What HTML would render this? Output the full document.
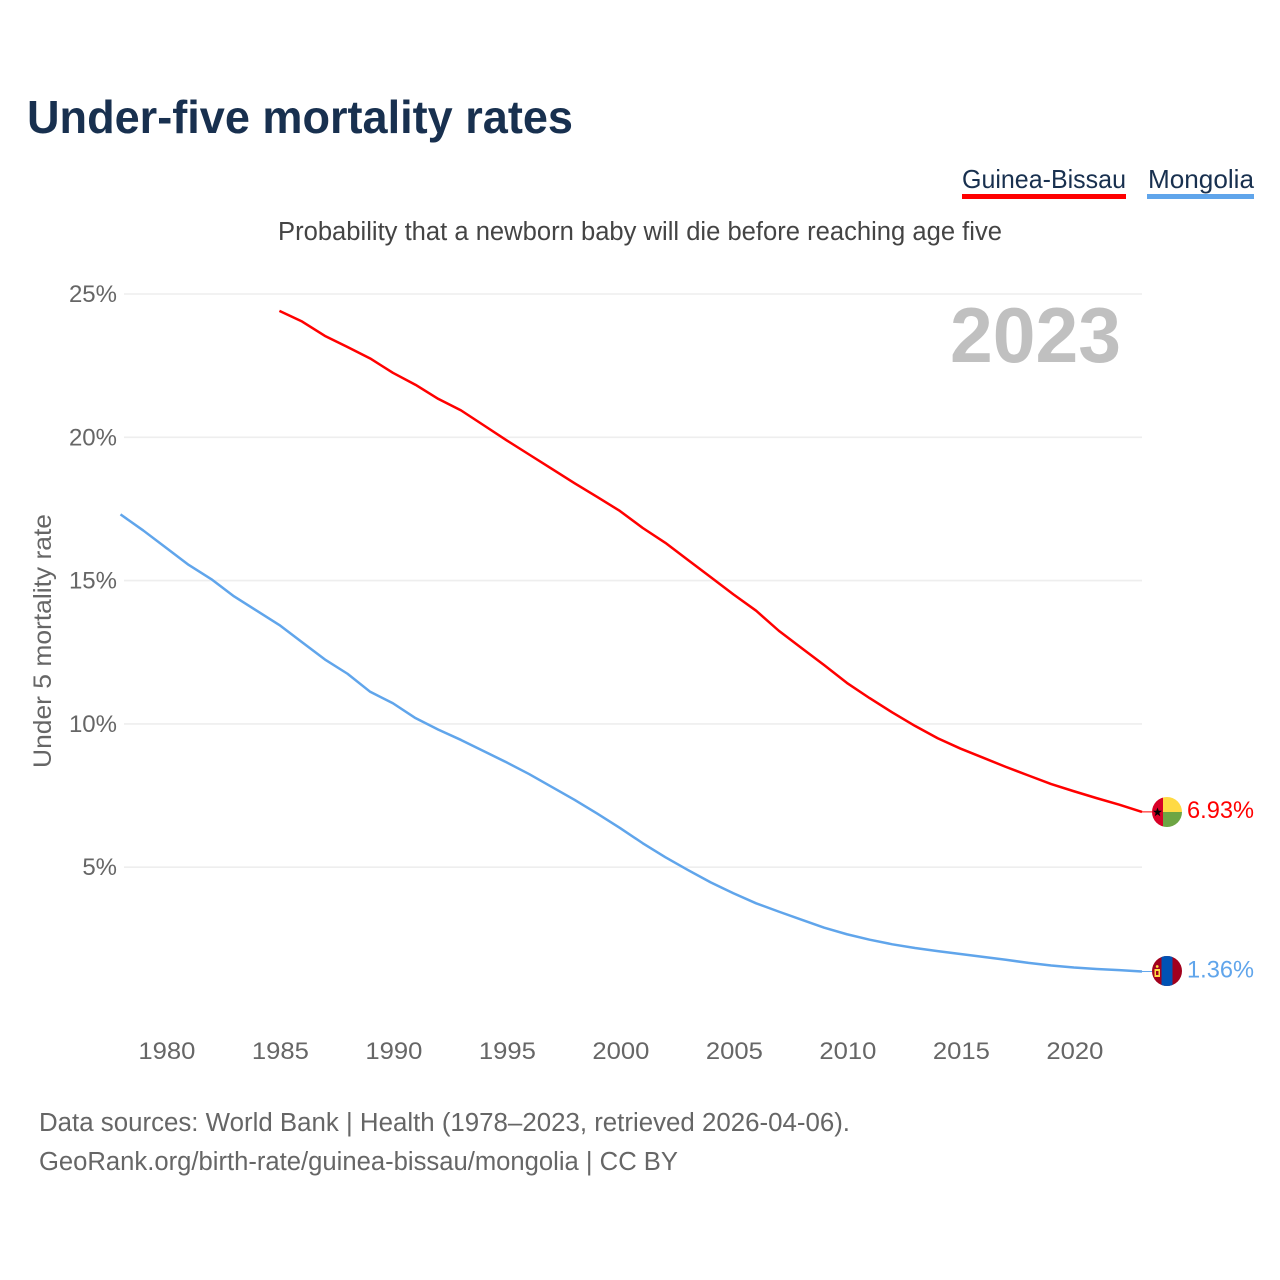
<!DOCTYPE html>
<html lang="en">
<head>
<meta charset="utf-8">
<title>Under-five mortality rates</title>
<style>
html,body{margin:0;padding:0;background:#fff;width:1280px;height:1280px;overflow:hidden}
svg{display:block}
text{font-family:"Liberation Sans",sans-serif}
</style>
</head>
<body>
<svg id="chart" xmlns="http://www.w3.org/2000/svg" width="1280" height="1280" viewBox="0 0 1280 1280">
  <rect width="1280" height="1280" fill="#fff"/>
  <text x="27" y="133" font-size="46" font-weight="700" fill="#18304f" textLength="546" lengthAdjust="spacingAndGlyphs">Under-five mortality rates</text>

  <g>
    <text x="962" y="188" font-size="26" fill="#18304f" textLength="164" lengthAdjust="spacingAndGlyphs">Guinea-Bissau</text>
    <rect x="962" y="194" width="164" height="5" fill="#ff0000"/>
  </g>
  <g>
    <text x="1148" y="188" font-size="26" fill="#18304f" textLength="106" lengthAdjust="spacingAndGlyphs">Mongolia</text>
    <rect x="1147" y="194" width="107" height="5" fill="#60a5eb"/>
  </g>

  <text x="278" y="240" font-size="25.5" fill="#444" textLength="724" lengthAdjust="spacingAndGlyphs">Probability that a newborn baby will die before reaching age five</text>

  <g id="grid"></g>
  <g id="yticks"></g>
  <g id="xticks"></g>

  <text x="950" y="362" font-size="78" font-weight="700" fill="#c0c0c0" textLength="171" lengthAdjust="spacingAndGlyphs">2023</text>

  <text transform="translate(51,768) rotate(-90)" font-size="25" fill="#666" textLength="254" lengthAdjust="spacingAndGlyphs">Under 5 mortality rate</text>

  <g id="series"></g>

  <defs>
    <clipPath id="clip-gw"><circle cx="1167" cy="812" r="15"/></clipPath>
    <clipPath id="clip-mn"><circle cx="1167" cy="971" r="15"/></clipPath>
  </defs>

  <g clip-path="url(#clip-gw)">
    <rect x="1152" y="797" width="11" height="30" fill="#d80027"/>
    <rect x="1163" y="797" width="19" height="15" fill="#ffda44"/>
    <rect x="1163" y="812" width="19" height="15" fill="#6da544"/>
    <polygon points="1157.5,807.5 1158.7,810.8 1162,810.8 1159.3,812.9 1160.3,816.2 1157.5,814.2 1154.7,816.2 1155.7,812.9 1153,810.8 1156.3,810.8" fill="#000"/>
  </g>
  <g clip-path="url(#clip-mn)">
    <rect x="1152" y="956" width="30" height="30" fill="#a2001d"/>
    <rect x="1161.5" y="956" width="11" height="30" fill="#0052b4"/>
    <rect x="1154.5" y="969" width="5.5" height="8" fill="#ffda44"/>
    <rect x="1156" y="971" width="2.5" height="4" fill="#a2001d"/>
    <circle cx="1157.2" cy="966.5" r="1.4" fill="#ffda44"/>
  </g>

  <text x="1187" y="818" font-size="24" fill="#ff0000" textLength="67" lengthAdjust="spacingAndGlyphs">6.93%</text>
  <text x="1187" y="977.5" font-size="24" fill="#60a5eb" textLength="67" lengthAdjust="spacingAndGlyphs">1.36%</text>

  <text x="39" y="1131" font-size="25.5" fill="#666" textLength="811" lengthAdjust="spacingAndGlyphs">Data sources: World Bank | Health (1978–2023, retrieved 2026-04-06).</text>
  <text x="39" y="1170" font-size="25.5" fill="#666" textLength="639" lengthAdjust="spacingAndGlyphs">GeoRank.org/birth-rate/guinea-bissau/mongolia | CC BY</text>
</svg>

<script>
const yTickValues = [5, 10, 15, 20, 25];
const yTickLabels = ["5%", "10%", "15%", "20%", "25%"];
const xTickValues = [1980, 1985, 1990, 1995, 2000, 2005, 2010, 2015, 2020];
const xTickLabels = ["1980", "1985", "1990", "1995", "2000", "2005", "2010", "2015", "2020"];
const guineaBissauStartYear = 1985;
const guineaBissauValues = [24.41, 24.04, 23.54, 23.15, 22.75, 22.25, 21.83, 21.34, 20.94, 20.42, 19.9, 19.4, 18.9, 18.4, 17.92, 17.43, 16.84, 16.32, 15.72, 15.12, 14.52, 13.95, 13.25, 12.65, 12.05, 11.43, 10.9, 10.4, 9.93, 9.5, 9.14, 8.82, 8.5, 8.2, 7.9, 7.65, 7.41, 7.18, 6.93];
const mongoliaStartYear = 1978;
const mongoliaValues = [17.31, 16.75, 16.15, 15.55, 15.05, 14.45, 13.95, 13.45, 12.85, 12.25, 11.75, 11.12, 10.72, 10.2, 9.8, 9.44, 9.05, 8.66, 8.25, 7.8, 7.35, 6.87, 6.37, 5.84, 5.35, 4.9, 4.47, 4.09, 3.74, 3.45, 3.17, 2.89, 2.66, 2.47, 2.31, 2.18, 2.07, 1.97, 1.87, 1.77, 1.66, 1.57, 1.5, 1.45, 1.41, 1.36];

const NS = "http://www.w3.org/2000/svg";
function xScale(year) { return 120.5 + (year - 1978) * 22.7; }
function yScale(value) { return 1010.5 - value * 28.66; }

const grid = document.getElementById("grid");
const yticks = document.getElementById("yticks");
const xticks = document.getElementById("xticks");
const series = document.getElementById("series");

yTickValues.forEach(function (v, i) {
  const line = document.createElementNS(NS, "line");
  
  
  line.setAttribute("x1", 124);
  line.setAttribute("x2", 1142);
  line.setAttribute("y1", yScale(v));
  line.setAttribute("y2", yScale(v));
  line.setAttribute("stroke", "#eeeeee");
  line.setAttribute("stroke-width", 1.6);
  grid.appendChild(line);

  const t = document.createElementNS(NS, "text");
  
  
  t.setAttribute("x", 117);
  t.setAttribute("y", yScale(v) + 8);
  t.setAttribute("text-anchor", "end");
  t.setAttribute("font-size", 24);
  t.setAttribute("fill", "#666");
  t.textContent = yTickLabels[i];
  yticks.appendChild(t);
});

xTickValues.forEach(function (v, i) {
  const t = document.createElementNS(NS, "text");
  
  
  t.setAttribute("x", xScale(v) + 1);
  t.setAttribute("y", 1059);
  t.setAttribute("text-anchor", "middle");
  t.setAttribute("font-size", 24);
  t.setAttribute("fill", "#666");
  t.setAttribute("textLength", 57);
  t.setAttribute("lengthAdjust", "spacingAndGlyphs");
  t.textContent = xTickLabels[i];
  xticks.appendChild(t);
});

function linePoints(startYear, values) {
  return values.map(function (v, i) {
    return xScale(startYear + i).toFixed(2) + "," + yScale(v).toFixed(2);
  }).join(" ");
}

const redLine = document.createElementNS(NS, "polyline");


redLine.setAttribute("points", linePoints(guineaBissauStartYear, guineaBissauValues));
redLine.setAttribute("fill", "none");
redLine.setAttribute("stroke", "#ff0000");
redLine.setAttribute("stroke-width", 2.5);
redLine.setAttribute("stroke-linejoin", "round");
series.appendChild(redLine);

const blueLine = document.createElementNS(NS, "polyline");


blueLine.setAttribute("points", linePoints(mongoliaStartYear, mongoliaValues));
blueLine.setAttribute("fill", "none");
blueLine.setAttribute("stroke", "#60a5eb");
blueLine.setAttribute("stroke-width", 2.5);
blueLine.setAttribute("stroke-linejoin", "round");
series.appendChild(blueLine);

const redLead = document.createElementNS(NS, "line");


redLead.setAttribute("x1", xScale(2023));
redLead.setAttribute("x2", 1152);
redLead.setAttribute("y1", yScale(guineaBissauValues[guineaBissauValues.length - 1]));
redLead.setAttribute("y2", yScale(guineaBissauValues[guineaBissauValues.length - 1]));
redLead.setAttribute("stroke", "#ff0000");
redLead.setAttribute("stroke-width", 1);
series.appendChild(redLead);

const blueLead = document.createElementNS(NS, "line");


blueLead.setAttribute("x1", xScale(2023));
blueLead.setAttribute("x2", 1152);
blueLead.setAttribute("y1", yScale(mongoliaValues[mongoliaValues.length - 1]));
blueLead.setAttribute("y2", yScale(mongoliaValues[mongoliaValues.length - 1]));
blueLead.setAttribute("stroke", "#60a5eb");
blueLead.setAttribute("stroke-width", 1);
series.appendChild(blueLead);
</script>
</body>
</html>
